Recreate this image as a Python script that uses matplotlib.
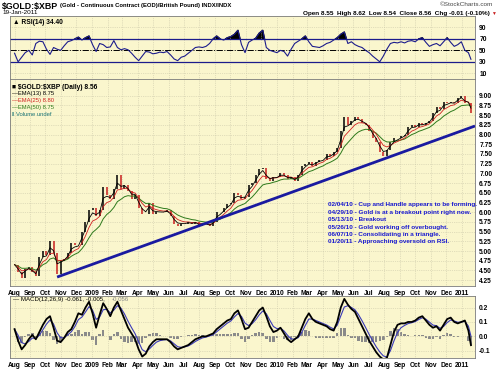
import numpy as np
import pandas as pd
import matplotlib
matplotlib.use('Agg')
import matplotlib.pyplot as plt
import matplotlib.dates as mdates
from matplotlib.ticker import FuncFormatter

plt.rcParams['font.family'] = ['Liberation Sans', 'DejaVu Sans']

# weekly closes (Fridays)
close_2008 = [4.65, 4.45, 4.30, 4.55, 4.60,
              4.45, 4.35, 4.85, 5.00,
              4.90, 5.25, 4.95, 4.40, 4.75,
              4.80, 4.95, 5.20, 5.15,
              5.15, 5.50, 5.75, 6.05]
close_2009 = [6.10, 5.90, 6.05, 6.65, 6.45,
              6.35, 6.60, 6.95, 6.60,
              6.70, 6.55, 6.35, 6.45,
              6.10, 5.95, 5.95, 6.25,
              5.95, 6.00, 6.00, 6.00, 6.05,
              5.90, 5.70, 5.65, 5.70,
              5.70, 5.75, 5.70, 5.75, 5.65,
              5.70, 5.70, 5.65, 5.75,
              6.00, 6.00, 6.10, 6.20,
              6.25, 6.50, 6.45, 6.35, 6.40,
              6.70, 6.75, 6.95, 7.10,
              7.15, 6.85, 6.80, 6.90]
close_2010 = [6.90, 7.00, 6.95, 6.85, 6.90,
              6.80, 6.95, 7.20, 7.25,
              7.30, 7.20, 7.30, 7.35,
              7.35, 7.50, 7.45, 7.55, 7.65,
              8.10, 8.45, 8.25, 8.35,
              8.45, 8.40, 8.30, 8.25,
              8.10, 7.90, 7.80, 7.55, 7.45,
              7.60, 7.80, 7.90, 7.90,
              7.95, 8.00, 8.20, 8.25,
              8.20, 8.30, 8.25, 8.30, 8.35,
              8.55, 8.70, 8.65, 8.85,
              8.80, 8.85, 8.80, 8.95, 9.00]
close_2011 = [8.80, 8.80, 8.56]

rsi_vals = [45, 30, 38, 46, 50, 42, 62, 66, 65, 52,
            43, 55, 52, 50, 58, 65, 67, 70, 73, 68,
            72, 75, 60, 48, 62, 60, 55, 56, 67, 55,
            51, 53, 51, 45, 38, 32, 40, 48, 47, 44,
            45, 47, 46, 48, 42, 35, 32, 38, 40, 45,
            50, 55, 56, 55, 57, 62, 70, 75, 70, 68,
            72, 74, 78, 85, 60, 46, 64, 68, 71, 80,
            85, 55, 50, 48, 46, 50, 48, 40, 52, 62,
            66, 70, 75, 65, 57, 56, 55, 58, 62, 64,
            68, 72, 78, 82, 62, 65, 60, 57, 55, 50,
            46, 40, 35, 30, 40, 52, 62, 64, 63, 65,
            63, 66, 67, 65, 70, 72, 64, 57, 60, 62,
            58, 65, 72, 64, 57, 60, 65, 50, 46, 34.4]

macd_vals = [0.05, -0.03, -0.09, -0.06, -0.02, 0.01, -0.02, 0.03, 0.08, 0.12,
             0.14, 0.06, -0.03, -0.04, -0.01, 0.03, 0.05, 0.10, 0.16, 0.15,
             0.20, 0.24, 0.16, 0.06, 0.15, 0.23, 0.19, 0.14, 0.20, 0.24,
             0.18, 0.12, 0.06, 0.02, -0.02, -0.09, -0.14, -0.12, -0.07, -0.04,
             -0.02, -0.02, -0.02, -0.02, -0.04, -0.07, -0.09, -0.08, -0.07, -0.06,
             -0.04, -0.02, -0.01, 0.00, 0.00, 0.01, 0.02, 0.05, 0.07, 0.09,
             0.11, 0.12, 0.16, 0.18, 0.12, 0.05, 0.06, 0.10, 0.14, 0.18,
             0.20, 0.14, 0.07, 0.03, 0.04, 0.06, 0.02, -0.02, -0.04, -0.02,
             0.00, 0.06, 0.12, 0.16, 0.12, 0.10, 0.09, 0.08, 0.07, 0.05,
             0.04, 0.10, 0.20, 0.26, 0.22, 0.19, 0.17, 0.12, 0.07, 0.02,
             -0.03, -0.07, -0.11, -0.14, -0.16, -0.15, -0.06, 0.03, 0.08, 0.09,
             0.09, 0.10, 0.10, 0.11, 0.13, 0.14, 0.11, 0.08, 0.06, 0.07,
             0.04, 0.08, 0.12, 0.13, 0.10, 0.09, 0.10, 0.11, 0.04, -0.061]

trend_dates = ['2008-10-24', '2011-01-27']
trend_values = [4.33, 8.22]

notes = ["02/04/10 - Cup and Handle appears to be forming.",
         "04/29/10 - Gold is at a breakout point right now.",
         "05/13/10 - Breakout",
         "05/26/10 - Gold working off overbought.",
         "06/07/10 - Consolidating in a triangle.",
         "01/20/11 - Approaching oversold on RSI."]

price_ticks = np.arange(4.25, 9.01, 0.25)
rsi_ticks = [10, 30, 50, 70, 90]
macd_ticks = [-0.1, 0.0, 0.1, 0.2]

dates = pd.date_range('2008-08-01', '2011-01-14', freq='W-FRI')
dates = dates.append(pd.DatetimeIndex(['2011-01-19']))
close = pd.Series(close_2008 + close_2009 + close_2010 + close_2011, index=dates)
rsi = np.array(rsi_vals)
macd = pd.Series(macd_vals, index=dates)

# daily EMA periods expressed in weeks
ema13 = close.ewm(span=13 / 5, adjust=False).mean()
ema25 = close.ewm(span=25 / 5, adjust=False).mean()
ema50 = close.ewm(span=50 / 5, adjust=False).mean()
signal = macd.ewm(span=2.8, adjust=False).mean()
hist = macd - signal

W, H = 500, 374
bg = '#faf6cd'
grid_kw = dict(color='#c9c6a8', linestyle=':', linewidth=0.5)
navy = '#1c1c8c'

fig = plt.figure(figsize=(5.0, 3.74), dpi=100)
fig.patch.set_facecolor('white')

def add_panel(top, bottom):
    return fig.add_axes([10 / W, 1 - bottom / H, 465 / W, (bottom - top) / H])

ax_rsi = add_panel(16, 79)
ax = add_panel(79, 286)
ax_m = add_panel(296, 358)

xmin = pd.Timestamp('2008-07-23')
xmax = pd.Timestamp('2011-01-27')

def month_fmt(x, pos):
    d = mdates.num2date(x)
    return str(d.year) if d.month == 1 else d.strftime('%b')

for a in (ax_rsi, ax, ax_m):
    a.set_facecolor(bg)
    a.set_xlim(xmin, xmax)
    a.xaxis.set_major_locator(mdates.MonthLocator())
    a.xaxis.set_major_formatter(FuncFormatter(month_fmt))
    a.yaxis.tick_right()
    a.tick_params(length=0, labelsize=4.8, pad=3)
    a.grid(True, **grid_kw)
    for s in a.spines.values():
        s.set_color('#7a7a7a')
        s.set_linewidth(0.6)
    for lab in a.get_xticklabels() + a.get_yticklabels():
        lab.set_fontweight('bold')

# RSI panel
ax_rsi.set_ylim(0, 110)
ax_rsi.set_yticks(rsi_ticks)
ax_rsi.tick_params(labelbottom=False)
ax_rsi.axhline(70, color=navy, lw=0.9)
ax_rsi.axhline(30, color=navy, lw=0.9)
ax_rsi.axhline(50, color='black', lw=0.7, linestyle='-.')
ax_rsi.plot(dates, rsi, color=navy, lw=0.8)
ax_rsi.fill_between(dates, rsi, 70, where=rsi > 70, interpolate=True, color='black')
ax_rsi.text(0.006, 0.95, '\u25b2 RSI(14) 34.40', transform=ax_rsi.transAxes,
            fontsize=4.8, va='top', fontweight='bold')

# price panel
ax.set_ylim(4.1, 9.43)
ax.set_yticks(price_ticks)
ax.yaxis.set_major_formatter(FuncFormatter(lambda v, p: f'{v:.2f}'))
for lab in ax.get_yticklabels():
    lab.set_fontweight('bold')
prev = close.shift(1).fillna(close.iloc[0])
up = close >= prev
ax.vlines(dates[up], prev[up], close[up], color='black', lw=1.1)
ax.vlines(dates[~up], prev[~up], close[~up], color='#c81e1e', lw=1.1)
ax.plot(dates, ema50, color='#2e7a1c', lw=0.7)
ax.plot(dates, ema25, color='#d02020', lw=0.6)
ax.plot(dates, ema13, color='black', lw=0.6)
ax.plot(pd.to_datetime(trend_dates), trend_values, color='#1a1aa0', lw=2.0,
        solid_capstyle='butt')

legend_rows = [('\u25a0 \\$GOLD:\\$XBP (Daily) 8.56', 'black'),
               ('\u2014EMA(13) 8.75', 'black'),
               ('\u2014EMA(25) 8.80', '#d02020'),
               ('\u2014EMA(50) 8.75', '#2e7a1c'),
               ('\u2016 Volume undef', '#207878')]
for i, (txt, col) in enumerate(legend_rows):
    ax.text(0.004, 0.975 - i * 0.034, txt, transform=ax.transAxes, color=col,
            fontsize=4.8 if i == 0 else 4.2, va='top',
            fontweight='bold' if i == 0 else 'normal')

for i, txt in enumerate(notes):
    ax.text(0.684, 0.405 - i * 0.036, txt, transform=ax.transAxes, color='#1a1ad0',
            fontsize=4.6, fontweight='bold', va='top')

# MACD panel
ax_m.set_ylim(-0.15, 0.28)
ax_m.set_yticks(macd_ticks)
ax_m.yaxis.set_major_formatter(FuncFormatter(lambda v, p: f'{v:.1f}'))
for lab in ax_m.get_yticklabels():
    lab.set_fontweight('bold')
ax_m.bar(dates, hist, width=5, color='#8a8a8a')
ax_m.plot(dates, signal, color='#3a3ab8', lw=0.8)
ax_m.plot(dates, macd, color='black', lw=1.3)
ax_m.text(0.006, 0.98, '\u2014 MACD(12,26,9) -0.061, -0.005,', transform=ax_m.transAxes,
          fontsize=4.4, va='top')
ax_m.text(0.218, 0.98, '-0.056', transform=ax_m.transAxes, fontsize=4.4,
          va='top', color='#888888')

# header
fig.text(2 / W, 1 - 6 / H, '\\$GOLD:\\$XBP', fontsize=6.3, fontweight='bold', va='center')
fig.text(60 / W, 1 - 6 / H, '(Gold - Continuous Contract (EOD)/British Pound) INDX/INDX',
         fontsize=4.2, fontweight='bold', va='center')
fig.text(2 / W, 1 - 13 / H, '19-Jan-2011', fontsize=4.6, va='center')
fig.text(493 / W, 1 - 5 / H, '\u00a9StockCharts.com', fontsize=4.6, ha='right', va='center',
         color='#444444')
fig.text(490 / W, 1 - 13 / H,
         'Open 8.55  High 8.62  Low 8.54  Close 8.56  Chg -0.01 (-0.10%)',
         fontsize=4.6, fontweight='bold', ha='right', va='center')
fig.text(491 / W, 1 - 13 / H, '\u25bc', fontsize=3.5, color='#c81e1e', va='center')

fig.savefig('out.png', dpi=100, facecolor='white')
